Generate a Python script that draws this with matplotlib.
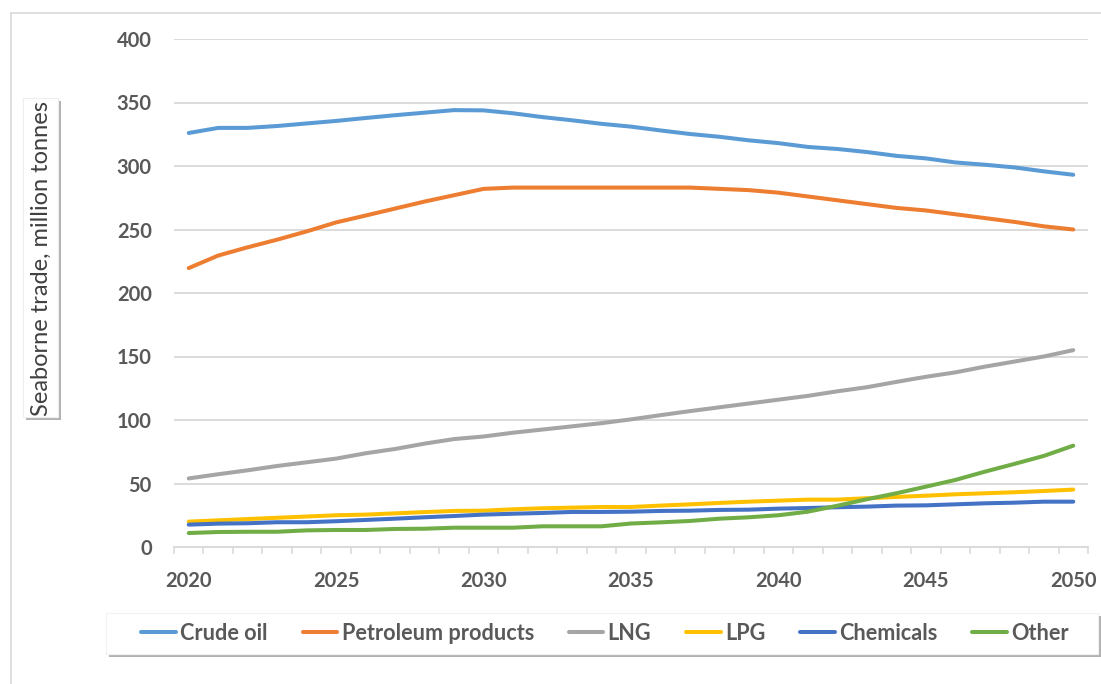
import matplotlib
matplotlib.use("Agg")
import matplotlib.pyplot as plt
import matplotlib.patheffects as pe
from matplotlib.patches import Rectangle
from matplotlib.lines import Line2D
from matplotlib.ticker import FixedLocator

plt.rcParams['font.family'] = ['Lato', 'DejaVu Sans']

years = list(range(2020, 2051))
crude = [326, 330, 330, 331.5, 333.5, 335.5, 337.8, 340, 342, 344, 343.8, 341.5, 338.5, 336, 333.2,
         331, 328, 325.2, 323, 320.2, 318, 315, 313.4, 311, 308, 306, 302.8, 301, 298.9, 295.8, 293.1]
petroleum = [219.6, 229.5, 236, 242, 248.5, 255.6, 261, 266.5, 272, 277, 282, 283, 283, 283, 283,
             283, 283, 283, 282, 281, 279, 276, 273, 270, 267, 265, 262, 259, 256, 252.5, 250]
lng = [54, 57.3, 60.4, 63.8, 66.7, 69.6, 73.8, 77.2, 81.4, 85, 87, 90, 92.5, 95, 97.5,
       100.5, 103.8, 107, 110, 113, 116, 119, 122.6, 125.8, 130, 134, 137.5, 142, 146, 150, 155]
lpg = [20, 21, 22, 23, 24, 25, 25.5, 26.5, 27.5, 28.4, 28.6, 29.7, 30.5, 31, 31.5,
       31.5, 32.6, 33.6, 34.7, 35.7, 36.5, 37.3, 37.3, 38.4, 39.4, 40.4, 41.5, 42.3, 43.1, 44.1, 45.2]
chemicals = [17.6, 18.4, 18.7, 19.5, 19.5, 20.3, 21.3, 22.3, 23.4, 24.4, 25.5, 26.2, 26.8, 27.6, 27.6,
             27.8, 28.4, 28.6, 29.2, 29.4, 30.2, 30.7, 31.3, 31.8, 32.6, 32.8, 33.6, 34.4, 34.9, 35.7, 35.7]
other = [11, 11.8, 12, 12, 13.1, 13.4, 13.4, 14.2, 14.4, 15.2, 15.2, 15.2, 16.3, 16.3, 16.3,
         18.5, 19.4, 20.5, 22.3, 23.4, 25, 27.8, 32.5, 37.6, 42.3, 47.5, 52.8, 59.3, 65.4, 71.7, 79.8]

series_names = ["Crude oil", "Petroleum products", "LNG", "LPG", "Chemicals", "Other"]
series_values = [crude, petroleum, lng, lpg, chemicals, other]
colors = ["#5B9BD5", "#ED7D31", "#A5A5A5", "#FFC000", "#4472C4", "#70AD47"]
x_labels = [2020, 2025, 2030, 2035, 2040, 2045, 2050]
y_ticks = [0, 50, 100, 150, 200, 250, 300, 350, 400]

W, H = 1101, 684
fig = plt.figure(figsize=(W / 100, H / 100), dpi=100)
ax = fig.add_axes([174 / W, 1 - 547 / H, (1088 - 174) / W, (547 - 39) / H])

for name, vals, c in zip(series_names, series_values, colors):
    ax.plot(years, vals, color=c, lw=2.9, label=name,
            solid_joinstyle='round', solid_capstyle='round')

grid_c = "#D9D9D9"
ax.set_xlim(2019.5, 2050.5)
ax.set_ylim(0, 400)
ax.set_yticks(y_ticks)
ax.yaxis.grid(True, color=grid_c, lw=1.3)
ax.set_axisbelow(True)
for s in ['top', 'right', 'left']:
    ax.spines[s].set_visible(False)
ax.spines['bottom'].set_color(grid_c)
ax.spines['bottom'].set_linewidth(1.3)

ax.set_xticks(x_labels)
ax.xaxis.set_minor_locator(FixedLocator([y + 0.5 for y in range(2019, 2051)]))
ax.tick_params(axis='x', which='major', length=0, pad=17)
ax.tick_params(axis='x', which='minor', length=5, width=1.2, color=grid_c)
ax.tick_params(axis='y', length=0, pad=16)
for lab in ax.get_xticklabels() + ax.get_yticklabels():
    lab.set_fontsize(14.5)
    lab.set_fontweight('bold')
    lab.set_color("#595959")

shadow = [pe.withSimplePatchShadow(offset=(2.5, -2.5), shadow_rgbFace='#7F7F7F', alpha=0.6), pe.Normal()]

# y axis title in a shadowed box
box = Rectangle((23 / W, 1 - 417 / H), 35 / W, 319 / H, transform=fig.transFigure,
                fc='white', ec='#EEEEEE', lw=0.8, zorder=2)
box.set_path_effects(shadow)
fig.patches.append(box)
fig.text(41 / W, 1 - 258 / H, "Seaborne trade, million tonnes", rotation=90,
         ha='center', va='center', fontsize=17, color="#404040", zorder=3)

# legend box + legend
lbox = Rectangle((106 / W, 1 - 654 / H), (1098 - 106) / W, 41 / H, transform=fig.transFigure,
                 fc='white', ec='#F2F2F2', lw=0.8, zorder=2)
lbox.set_path_effects(shadow)
fig.patches.append(lbox)
leg = fig.legend(loc='center', bbox_to_anchor=(605 / W, 1 - 633.5 / H), ncol=6, frameon=False,
                 fontsize=15.6, handlelength=1.6, handletextpad=0.2, columnspacing=1.6)
for t in leg.get_texts():
    t.set_fontweight('bold')
    t.set_color("#595959")

# outer chart border (cropped on right and bottom)
fig.add_artist(Line2D([10.5 / W, 1], [1 - 13.3 / H] * 2, transform=fig.transFigure, color=grid_c, lw=1.2))
fig.add_artist(Line2D([10.5 / W] * 2, [0, 1 - 13.3 / H], transform=fig.transFigure, color=grid_c, lw=1.2))

fig.savefig("out.png", dpi=100)
